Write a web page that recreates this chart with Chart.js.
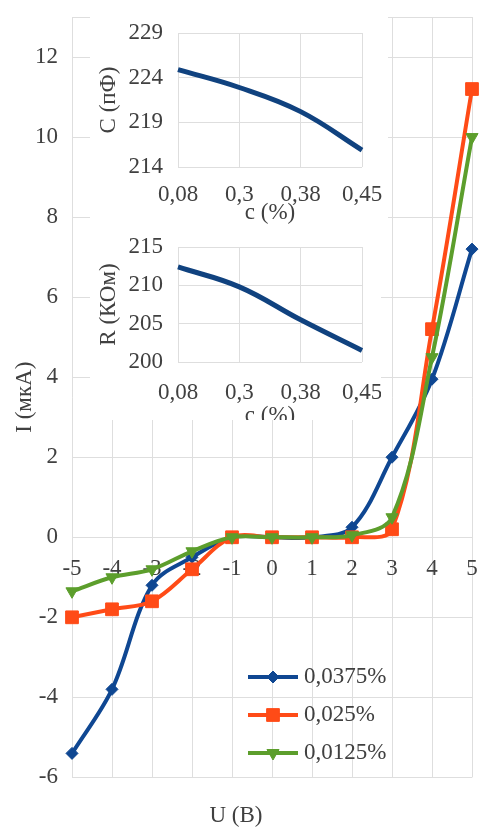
<!DOCTYPE html>
<html>
<head>
<meta charset="utf-8">
<script src="https://cdn.jsdelivr.net/npm/chart.js@4.4.1/dist/chart.umd.min.js"></script>
<style>
    body { margin: 0; background: #fff; }
    #quadro { position: relative; width: 482px; height: 830px; }
    #grafico-principal { position: absolute; left: 0; top: 0; }
    #grafico-capacitancia { position: absolute; left: 90px; top: 15px; background: #fff; }
    #caixa-resistencia { position: absolute; left: 90px; top: 228px; width: 291px; height: 192px; overflow: hidden; background: #fff; }
</style>
</head>
<body>
<div id="quadro">
    <canvas id="grafico-principal" width="482" height="830"></canvas>
    <canvas id="grafico-capacitancia" width="298" height="213"></canvas>
    <div id="caixa-resistencia"><canvas id="grafico-resistencia" width="298" height="203"></canvas></div>
</div>
<script>
// Curvas I-U para as tres concentracoes
const TENSOES = [-5, -4, -3, -2, -1, 0, 1, 2, 3, 4, 5];
const CORRENTE_0375 = [-5.4, -3.8, -1.2, -0.5, 0, 0, 0, 0.25, 2.0, 3.95, 7.2];
const CORRENTE_025 = [-2.0, -1.8, -1.6, -0.8, 0, 0, 0, 0, 0.2, 5.2, 11.2];
const CORRENTE_0125 = [-1.35, -1.0, -0.8, -0.35, 0, 0, 0, 0.05, 0.5, 4.5, 10.0];
const NOMES_SERIES = ['0,0375%', '0,025%', '0,0125%'];
const TICKS_CORRENTE = [-6, -4, -2, 0, 2, 4, 6, 8, 10, 12];
const TOPO_CORRENTE = 13;

// Graficos internos: C e R em funcao de c (%)
const CONCENTRACOES = ['0,08', '0,3', '0,38', '0,45'];
const CAPACITANCIA = [224.9, 222.9, 220.2, 215.9];
const TICKS_CAPACITANCIA = [214, 219, 224, 229];
const RESISTENCIA = [212.4, 209.8, 205.5, 201.5];
const TICKS_RESISTENCIA = [200, 205, 210, 215];

const FONTE = '"Liberation Serif", "Times New Roman", serif';
const TAMANHO_FONTE = 23;
const COR_TEXTO = '#404040';
const COR_GRADE = '#dedede';

Chart.defaults.font.family = FONTE;
Chart.defaults.font.size = TAMANHO_FONTE;
Chart.defaults.color = COR_TEXTO;
Chart.defaults.animation = false;
Chart.defaults.responsive = false;
Chart.defaults.plugins.legend.display = false;
Chart.defaults.plugins.tooltip.enabled = false;

function pontos(valores) {
    return TENSOES.map((u, i) => ({ x: u, y: valores[i] }));
}

function fixarTicks(lista) {
    return (escala) => {
        escala.ticks = lista.map((v) => ({ value: v }));
    };
}

// tira as folgas que o Chart.js reserva para os rotulos das pontas
function semFolga(largura, altura) {
    return (escala) => {
        if (largura !== null) escala.width = largura;
        if (altura !== null) escala.height = altura;
        escala.paddingTop = 0;
        escala.paddingBottom = 0;
        escala.paddingLeft = 0;
        escala.paddingRight = 0;
    };
}

// legenda desenhada dentro da area do grafico, como no original
const legendaInterna = {
    id: 'legendaInterna',
    afterDraw(chart, args, opcoes) {
        const ctx = chart.ctx;
        ctx.save();
        chart.data.datasets.forEach((ds, i) => {
            const y = opcoes.y + i * opcoes.espaco;
            ctx.strokeStyle = ds.borderColor;
            ctx.lineWidth = ds.borderWidth;
            ctx.beginPath();
            ctx.moveTo(opcoes.x, y);
            ctx.lineTo(opcoes.x + opcoes.comprimento, y);
            ctx.stroke();
            ctx.fillStyle = ds.backgroundColor;
            ctx.lineWidth = 1;
            Chart.helpers.drawPoint(ctx, {
                pointStyle: ds.pointStyle,
                rotation: ds.pointRotation || 0,
                radius: ds.pointRadius,
                borderWidth: 1,
            }, opcoes.x + opcoes.comprimento / 2, y);
            ctx.fillStyle = COR_TEXTO;
            ctx.font = `${TAMANHO_FONTE}px ${FONTE}`;
            ctx.textBaseline = 'middle';
            ctx.textAlign = 'left';
            ctx.fillText(ds.label, opcoes.x + opcoes.comprimento + 6, y);
        });
        ctx.restore();
    },
};

function serie(nome, valores, cor, estilo, raio, rotacao, ordem) {
    return {
        label: nome,
        data: pontos(valores),
        borderColor: cor,
        backgroundColor: cor,
        borderWidth: 4,
        pointStyle: estilo,
        pointRadius: raio,
        pointRotation: rotacao,
        pointBorderWidth: 1,
        tension: 0.35,
        clip: false,
        order: ordem,
    };
}

new Chart(document.getElementById('grafico-principal'), {
    type: 'line',
    data: {
        datasets: [
            serie(NOMES_SERIES[0], CORRENTE_0375, '#0f4792', 'rectRot', 6, 0, 3),
            serie(NOMES_SERIES[1], CORRENTE_025, '#ff4b17', 'rect', 9, 0, 2),
            serie(NOMES_SERIES[2], CORRENTE_0125, '#5c9e2c', 'triangle', 7, 180, 1),
        ],
    },
    options: {
        layout: { padding: { top: 17, right: 10, left: 0, bottom: 0 } },
        scales: {
            x: {
                type: 'linear',
                min: TENSOES[0],
                max: TENSOES[TENSOES.length - 1],
                position: { y: 0 },
                afterFit: semFolga(null, 0),
                grid: { color: COR_GRADE, drawTicks: false },
                border: { display: false },
                ticks: { stepSize: 1, padding: 18, maxRotation: 0, autoSkip: false },
            },
            y: {
                min: TICKS_CORRENTE[0],
                max: TOPO_CORRENTE,
                afterFit: semFolga(72, null),
                afterBuildTicks: fixarTicks([...TICKS_CORRENTE, TOPO_CORRENTE]),
                grid: { color: COR_GRADE, drawTicks: false },
                border: { display: false },
                ticks: {
                    padding: 14,
                    callback: (valor) => (TICKS_CORRENTE.includes(valor) ? valor : ''),
                },
                title: { display: true, text: 'I (мкА)', padding: { top: 11 } },
            },
        },
        plugins: {
            title: {
                display: true,
                text: 'U (B)',
                position: 'bottom',
                font: { size: TAMANHO_FONTE, weight: 'normal' },
                color: COR_TEXTO,
                padding: { top: 25, bottom: 0 },
            },
            legendaInterna: { x: 248, y: 677, espaco: 38, comprimento: 50 },
        },
    },
    plugins: [legendaInterna],
});

function graficoInterno(canvas, valores, ticks, tituloY, topo, alturaX, paddingTicksX) {
    return new Chart(canvas, {
        type: 'line',
        data: {
            labels: CONCENTRACOES,
            datasets: [{
                data: valores,
                borderColor: '#10427f',
                borderWidth: 5,
                pointRadius: 0,
                tension: 0.4,
                clip: false,
            }],
        },
        options: {
            layout: { padding: { top: topo, right: 26, left: 0, bottom: 0 } },
            scales: {
                x: {
                    offset: false,
                    afterFit: semFolga(null, alturaX),
                    grid: { color: COR_GRADE, drawTicks: false, offset: false },
                    border: { display: false },
                    ticks: { padding: paddingTicksX, maxRotation: 0, autoSkip: false },
                    title: { display: true, text: 'c (%)', padding: { top: 0, bottom: 1 } },
                },
                y: {
                    min: ticks[0],
                    max: ticks[ticks.length - 1],
                    afterFit: semFolga(88, null),
                    afterBuildTicks: fixarTicks(ticks),
                    grid: { color: COR_GRADE, drawTicks: false },
                    border: { display: false },
                    ticks: { padding: 15 },
                    title: { display: true, text: tituloY, padding: { top: 5 } },
                },
            },
        },
    });
}

graficoInterno(document.getElementById('grafico-capacitancia'), CAPACITANCIA, TICKS_CAPACITANCIA, 'C (пФ)', 18, 61, 14);
graficoInterno(document.getElementById('grafico-resistencia'), RESISTENCIA, TICKS_RESISTENCIA, 'R (КОм)', 19, 69, 17);
</script>
</body>
</html>
